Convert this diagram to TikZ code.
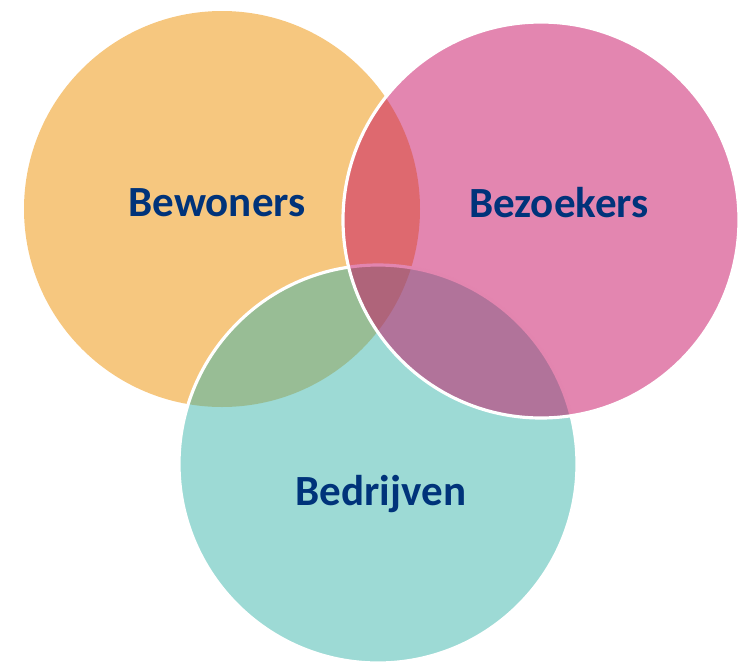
\documentclass[tikz,border=0pt]{standalone}
\usepackage{fontspec}
\setmainfont{Carlito}
\usepackage{xcolor}
\usepackage{tikz}
\definecolor{bewonersorange}{RGB}{246,199,127}
\definecolor{bedrijventeal}{RGB}{59,181,171}
\definecolor{bezoekerspink}{RGB}{199,13,97}
\definecolor{labelblue}{RGB}{0,51,122}
\tikzset{
    setlabel/.style={text=labelblue, font=\fontsize{24.5}{29}\selectfont\bfseries},
    ring/.style={draw=white, line width=1.8pt}
}

\begin{document}
\begin{tikzpicture}[x=0.02cm, y=-0.02cm]
    \useasboundingbox (0,0) rectangle (738,664);

    % Bewoners circle (opaque, drawn first)
    \fill[bewonersorange] (222,209) circle (198);

    % Bedrijven circle
    \fill[bedrijventeal, fill opacity=0.5] (378,464) circle (199);
    \draw[ring] (378,464) circle (199);

    % Bezoekers circle (on top)
    \fill[bezoekerspink, fill opacity=0.5] (541,220) circle (198);
    \draw[ring] (541,220) circle (198);

    % Labels
    \node[setlabel] (bewoners) at (217,203) {Bewoners};
    \node[setlabel] (bezoekers) at (559,203) {Bezoekers};
    \node[setlabel] (bedrijven) at (381,494) {Bedrijven};
\end{tikzpicture}
\end{document}
